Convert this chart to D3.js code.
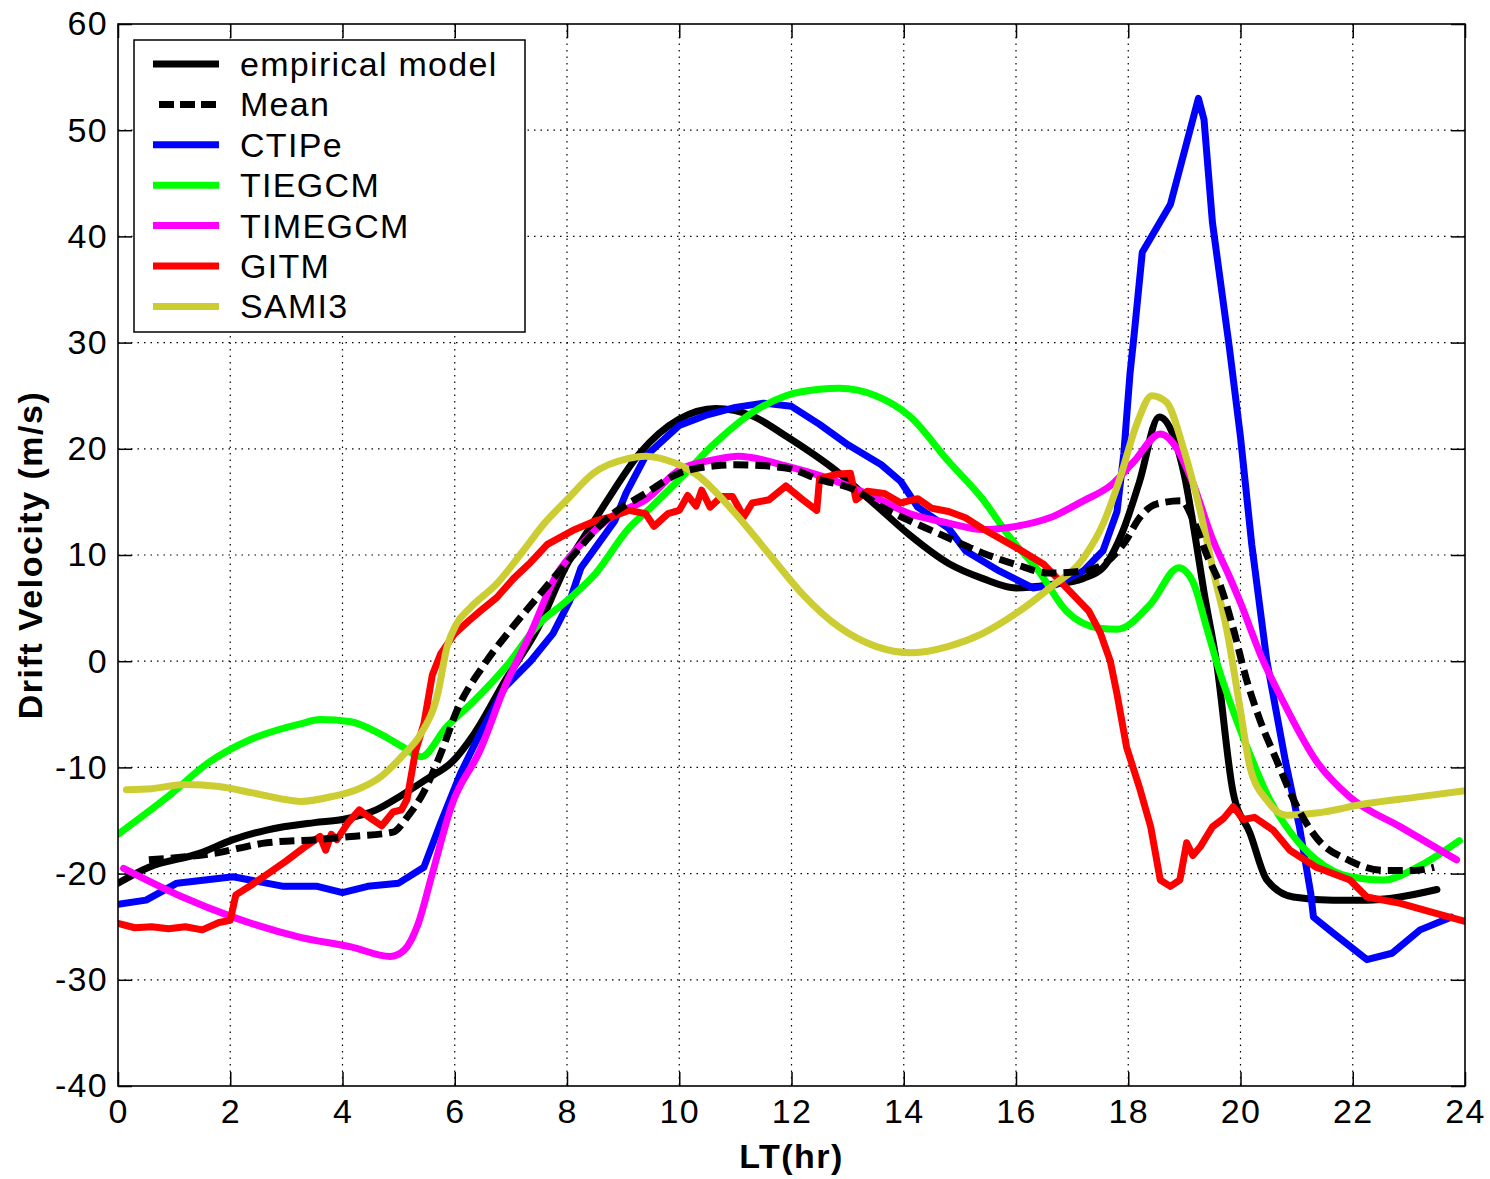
<!DOCTYPE html>
<html>
<head>
<meta charset="utf-8">
<script src="https://cdn.jsdelivr.net/npm/d3@7"></script>
<style>
  html, body { margin: 0; padding: 0; background: #fff; }
  svg { display: block; }
  text { font-family: "Liberation Sans", Arial, sans-serif; fill: #000; }
</style>
</head>
<body>
<svg id="chart" width="1490" height="1179"></svg>
<script>
// ---------------- DATA ----------------
const xTicks = [0, 2, 4, 6, 8, 10, 12, 14, 16, 18, 20, 22, 24];
const yTicks = [-40, -30, -20, -10, 0, 10, 20, 30, 40, 50, 60];
const seriesNames = ["empirical model", "Mean", "CTIPe", "TIEGCM", "TIMEGCM", "GITM", "SAMI3"];
const seriesColors = ["#000000", "#000000", "#0000ff", "#00ff00", "#ff00ff", "#ff0000", "#cccc33"];

const empiricalLT = [0, 0.55, 1.45, 2.05, 2.65, 3.5, 4.0, 4.6, 5.0, 5.5, 5.95, 6.35, 6.9, 7.45, 8.0, 8.4, 8.7, 9.3, 10.0, 10.65, 11.3, 11.9, 12.85, 13.5, 14.1, 14.8, 15.4, 16.0, 16.6, 17.2, 17.55, 17.9, 18.2, 18.55, 18.8, 19.0, 19.2, 19.35, 19.57, 19.87, 20.17, 20.47, 20.94, 21.65, 22.25, 22.84, 23.5];
const empiricalV = [-20.9, -19.4, -18.1, -16.8, -15.9, -15.2, -14.9, -14.0, -12.8, -11.1, -9.5, -6.8, -1.8, 2.8, 9.1, 12.5, 15.0, 19.6, 22.8, 23.8, 23.1, 21.2, 17.7, 14.7, 11.9, 9.2, 7.8, 6.9, 7.2, 7.8, 8.8, 12.2, 16.9, 23.0, 21.3, 17.5, 11.5, 6.5, 0, -12.4, -16.2, -20.6, -22.2, -22.5, -22.5, -22.2, -21.5];

const meanLT = [0.55, 1.7, 2.65, 3.55, 4.15, 4.9, 5.15, 5.45, 5.75, 6.05, 6.5, 7.0, 7.5, 8.0, 8.8, 9.4, 10.0, 10.65, 11.0, 11.9, 12.5, 13.1, 13.65, 14.2, 14.8, 15.4, 16.0, 16.6, 17.2, 17.55, 17.95, 18.2, 18.5, 18.95, 19.15, 19.4, 19.65, 19.87, 20.1, 20.35, 20.65, 20.95, 21.35, 21.95, 22.55, 23.1, 23.45];
const meanV = [-18.7, -18.1, -17.1, -16.8, -16.5, -16.1, -14.7, -12.3, -8.7, -4.5, -0.5, 3.0, 6.2, 9.3, 13.8, 15.8, 17.7, 18.4, 18.5, 18.2, 17.1, 16.2, 14.4, 13.0, 11.6, 10.2, 9.1, 8.3, 8.5, 9.1, 11.3, 13.5, 14.8, 15.1, 13.4, 10.0, 7.0, 3.1, -1.6, -5.6, -9.4, -13.1, -16.6, -18.8, -19.7, -19.7, -19.4];

const ctipeLT = [0, 0.5, 1.05, 2.05, 2.95, 3.55, 4.0, 4.45, 5.0, 5.45, 5.75, 6.1, 6.45, 6.9, 7.35, 7.75, 8.05, 8.25, 8.55, 8.85, 9.05, 9.4, 10.0, 10.5, 11.0, 11.5, 12.0, 12.5, 13.0, 13.6, 13.95, 14.25, 14.8, 15.1, 15.7, 16.3, 16.7, 17.2, 17.55, 17.8, 17.92, 18.03, 18.1, 18.25, 18.75, 19.25, 19.35, 19.5, 19.8, 20.0, 20.2, 20.47, 20.8, 21.05, 21.25, 21.3, 21.65, 22.25, 22.7, 23.2, 23.75];
const ctipeV = [-22.9, -22.5, -20.9, -20.3, -21.2, -21.2, -21.8, -21.2, -20.9, -19.4, -15.2, -10.6, -6.8, -2.4, 0, 2.6, 5.7, 8.8, 11.0, 13.2, 15.8, 19.3, 22.2, 23.2, 23.9, 24.3, 24.0, 22.3, 20.4, 18.5, 16.9, 14.5, 12.5, 10.4, 8.5, 6.9, 7.2, 8.5, 10.4, 14.1, 19.5, 27.0, 30.5, 38.5, 43.0, 53.0, 51.0, 41.3, 29.6, 21.1, 11.0, 0, -9.4, -15.6, -21.8, -24.1, -25.6, -28.1, -27.5, -25.3, -24.1];

const tiegcmLT = [0, 0.9, 1.6, 2.35, 3.25, 3.6, 4.15, 4.65, 5.05, 5.4, 5.85, 6.35, 6.9, 7.5, 8.0, 8.5, 9.1, 9.5, 10.0, 10.65, 11.3, 11.9, 12.5, 12.85, 13.5, 14.1, 14.8, 15.4, 15.9, 16.4, 16.9, 17.5, 17.8, 18.4, 18.9, 19.15, 19.4, 19.57, 19.87, 20.17, 20.47, 20.82, 21.35, 21.95, 22.55, 23.15, 23.9];
const tiegcmV = [-16.3, -12.7, -9.6, -7.4, -5.9, -5.5, -5.7, -6.8, -8.0, -9.0, -6.2, -3.7, -0.6, 3.5, 5.7, 8.2, 12.5, 14.5, 17.1, 20.6, 23.4, 25.0, 25.6, 25.7, 25.0, 23.1, 18.8, 15.3, 11.6, 8.5, 4.7, 3.1, 3.0, 5.4, 8.8, 7.5, 3.1, 0, -4.7, -8.8, -12.5, -15.6, -18.7, -20.3, -20.6, -19.4, -16.9];

const timegcmLT = [0.1, 1.15, 2.05, 3.25, 4.15, 4.85, 5.1, 5.35, 5.6, 5.95, 6.45, 6.9, 7.35, 7.8, 8.25, 8.85, 9.4, 10.0, 10.65, 11.05, 11.9, 12.55, 13.5, 14.1, 14.8, 15.4, 16.0, 16.6, 17.2, 17.7, 18.1, 18.57, 18.87, 19.15, 19.5, 19.8, 20.0, 20.35, 20.75, 21.35, 21.95, 22.85, 23.85];
const timegcmV = [-19.5, -22.2, -24.1, -26.0, -26.9, -27.8, -27.2, -24.7, -20.0, -13.5, -8.4, -2.3, 2.6, 8.0, 11.0, 13.8, 15.2, 18.0, 19.0, 19.3, 18.4, 17.4, 15.4, 13.9, 13.0, 12.4, 12.7, 13.5, 15.1, 16.6, 18.8, 21.4, 20.0, 16.8, 11.5, 8.0, 5.5, 0.7, -3.7, -9.4, -12.8, -15.6, -18.7];

const gitmLT = [0, 0.3, 0.6, 0.9, 1.2, 1.5, 1.8, 2.0, 2.1, 2.4, 2.7, 3.0, 3.3, 3.6, 3.7, 3.8, 3.9, 4.1, 4.3, 4.45, 4.7, 4.9, 5.05, 5.15, 5.3, 5.45, 5.6, 5.75, 6.0, 6.25, 6.45, 6.75, 7.05, 7.35, 7.65, 8.1, 8.5, 8.8, 9.1, 9.4, 9.55, 9.8, 10.0, 10.15, 10.3, 10.4, 10.55, 10.75, 10.95, 11.15, 11.3, 11.6, 11.9, 12.2, 12.45, 12.5, 12.8, 13.05, 13.15, 13.35, 13.65, 13.95, 14.25, 14.5, 14.8, 15.1, 15.4, 15.7, 16.1, 16.5, 16.9, 17.3, 17.5, 17.68, 17.8, 17.97, 18.2, 18.4, 18.57, 18.75, 18.92, 19.04, 19.15, 19.28, 19.5, 19.7, 19.87, 20.05, 20.25, 20.58, 20.88, 21.35, 21.95, 22.25, 22.85, 23.45, 24];
const gitmV = [-24.7, -25.1, -25.0, -25.2, -25.0, -25.3, -24.6, -24.4, -22.0, -21.0, -19.9, -18.8, -17.6, -16.5, -17.8, -16.3, -16.8, -15.2, -14.0, -14.6, -15.5, -14.2, -14.0, -13.0, -8.5, -5.9, -1.3, 0.7, 2.6, 3.8, 4.7, 6.0, 7.8, 9.3, 11.0, 12.3, 13.2, 13.6, 14.2, 13.9, 12.7, 13.9, 14.2, 15.6, 14.6, 16.1, 14.5, 15.5, 15.5, 13.6, 14.9, 15.2, 16.5, 15.2, 14.2, 17.2, 17.6, 17.7, 15.2, 16.0, 15.8, 14.9, 15.3, 14.4, 14.1, 13.5, 12.5, 11.6, 10.4, 9.1, 6.9, 4.7, 2.7, 0, -3.1, -8.1, -11.9, -15.6, -20.6, -21.2, -20.6, -17.1, -18.3, -17.5, -15.6, -14.8, -13.7, -14.9, -14.7, -15.9, -17.8, -19.4, -20.6, -22.2, -22.8, -23.7, -24.5];

const sami3LT = [0.15, 0.6, 1.2, 1.8, 2.4, 2.95, 3.25, 3.85, 4.25, 4.7, 5.05, 5.4, 5.7, 5.86, 6.03, 6.27, 6.75, 7.22, 7.6, 8.0, 8.47, 9.1, 9.4, 9.9, 10.35, 10.95, 11.6, 12.2, 12.85, 13.5, 14.15, 14.8, 15.4, 16.0, 16.6, 17.2, 17.55, 17.85, 18.15, 18.42, 18.68, 18.98, 19.27, 19.55, 19.75, 20.0, 20.17, 20.47, 20.82, 21.35, 22.25, 23.13, 24];
const sami3V = [-12.1, -12.0, -11.6, -11.8, -12.4, -13.0, -13.2, -12.7, -12.1, -10.8, -9.0, -6.8, -3.0, 1.3, 3.5, 5.0, 7.3, 10.4, 13.0, 15.2, 17.7, 19.1, 19.3, 18.7, 17.4, 14.2, 10.1, 6.3, 3.2, 1.4, 0.8, 1.4, 2.6, 4.5, 6.9, 9.7, 12.9, 17.2, 22.3, 25.0, 24.4, 20.1, 14.4, 7.7, 3.1, -4.7, -10.0, -13.1, -14.5, -14.3, -13.4, -12.8, -12.2];

// ---------------- CHART ----------------
const svg = d3.select("#chart");
const L = 118, R = 1465, T = 24, B = 1086;
const x = d3.scaleLinear().domain([0, 24]).range([L, R]);
const y = d3.scaleLinear().domain([-40, 60]).range([B, T]);
const FONT = 34, SPACING = 1.3;

svg.append("rect").attr("width", 1490).attr("height", 1179).attr("fill", "#fff");

svg.append("defs").append("clipPath").attr("id", "clip")
  .append("rect").attr("x", L).attr("y", T).attr("width", R - L).attr("height", B - T);

// grid
const grid = svg.append("g");
grid.selectAll("line.gx").data(xTicks.slice(1, -1)).enter().append("line")
  .attr("x1", d => x(d)).attr("x2", d => x(d)).attr("y1", T).attr("y2", B)
  .attr("stroke", "#000").attr("stroke-width", 1.2).attr("stroke-dasharray", "1.5,5");
grid.selectAll("line.gy").data(yTicks.slice(1, -1)).enter().append("line")
  .attr("y1", d => y(d)).attr("y2", d => y(d)).attr("x1", L).attr("x2", R)
  .attr("stroke", "#000").attr("stroke-width", 1.2).attr("stroke-dasharray", "1.5,5");

// axes
const tickLen = 14;
const fmt = d => String(d);
const xAxisB = d3.axisBottom(x).tickValues(xTicks).tickSize(-tickLen).tickPadding(13).tickFormat(fmt);
const xAxisT = d3.axisTop(x).tickValues(xTicks).tickSize(-tickLen).tickFormat("");
const yAxisL = d3.axisLeft(y).tickValues(yTicks).tickSize(-tickLen).tickPadding(10).tickFormat(fmt);
const yAxisR = d3.axisRight(y).tickValues(yTicks).tickSize(-tickLen).tickFormat("");

function styleAxis(g) {
  g.select(".domain").remove();
  g.selectAll(".tick line").attr("stroke", "#000").attr("stroke-width", 1.5);
  g.selectAll(".tick text").attr("font-family", "Liberation Sans, Arial, sans-serif")
    .attr("font-size", FONT).attr("letter-spacing", SPACING).attr("fill", "#000");
}
svg.append("g").attr("transform", `translate(0,${B})`).call(xAxisB).call(styleAxis)
  .selectAll(".tick text").attr("dy", "0.71em");
svg.append("g").attr("transform", `translate(0,${T})`).call(xAxisT).call(styleAxis);
svg.append("g").attr("transform", `translate(${L},0)`).call(yAxisL).call(styleAxis);
svg.append("g").attr("transform", `translate(${R},0)`).call(yAxisR).call(styleAxis);

// series
const series = [
  { name: seriesNames[0], lt: empiricalLT, v: empiricalV, color: seriesColors[0], dash: null, curve: d3.curveMonotoneX },
  { name: seriesNames[2], lt: ctipeLT, v: ctipeV, color: seriesColors[2], dash: null, curve: d3.curveLinear },
  { name: seriesNames[3], lt: tiegcmLT, v: tiegcmV, color: seriesColors[3], dash: null, curve: d3.curveMonotoneX },
  { name: seriesNames[4], lt: timegcmLT, v: timegcmV, color: seriesColors[4], dash: null, curve: d3.curveMonotoneX },
  { name: seriesNames[5], lt: gitmLT, v: gitmV, color: seriesColors[5], dash: null, curve: d3.curveLinear },
  { name: seriesNames[6], lt: sami3LT, v: sami3V, color: seriesColors[6], dash: null, curve: d3.curveMonotoneX },
  { name: seriesNames[1], lt: meanLT, v: meanV, color: seriesColors[1], dash: "15,7", curve: d3.curveMonotoneX }
];

const plot = svg.append("g").attr("clip-path", "url(#clip)");
series.forEach(s => {
  const pts = s.lt.map((t, i) => [t, s.v[i]]);
  const line = d3.line().x(d => x(d[0])).y(d => y(d[1])).curve(s.curve);
  plot.append("path").datum(pts)
    .attr("d", line)
    .attr("fill", "none")
    .attr("stroke", s.color)
    .attr("stroke-width", 7)
    .attr("stroke-linejoin", "round")
    .attr("stroke-linecap", s.dash ? "butt" : "round")
    .attr("stroke-dasharray", s.dash);
});

// box
svg.append("rect").attr("x", L).attr("y", T).attr("width", R - L).attr("height", B - T)
  .attr("fill", "none").attr("stroke", "#000").attr("stroke-width", 1.6);

// axis labels
svg.append("text").attr("x", x(12)).attr("y", 1168).attr("text-anchor", "middle")
  .attr("font-size", 34).attr("letter-spacing", 1.5).attr("font-weight", "bold").text("LT(hr)");
svg.append("text").attr("transform", `translate(42,${y(10)}) rotate(-90)`).attr("text-anchor", "middle")
  .attr("font-size", 34).attr("letter-spacing", 1.5).attr("font-weight", "bold").text("Drift Velocity (m/s)");

// legend
const lg = svg.append("g");
lg.append("rect").attr("x", 134).attr("y", 40).attr("width", 391).attr("height", 292)
  .attr("fill", "#fff").attr("stroke", "#000").attr("stroke-width", 1.5);
const legendOrder = [0, 1, 2, 3, 4, 5, 6];
legendOrder.forEach((k, i) => {
  const cy = 64 + i * 40.4;
  const isDash = k === 1;
  lg.append("line")
    .attr("x1", isDash ? 159 : 153).attr("x2", isDash ? 216 : 219)
    .attr("y1", cy).attr("y2", cy)
    .attr("stroke", seriesColors[k]).attr("stroke-width", 7)
    .attr("stroke-dasharray", isDash ? "15,6" : null);
  lg.append("text").attr("x", 240).attr("y", cy + 12)
    .attr("font-size", FONT).attr("letter-spacing", SPACING).text(seriesNames[k]);
});
</script>
</body>
</html>
